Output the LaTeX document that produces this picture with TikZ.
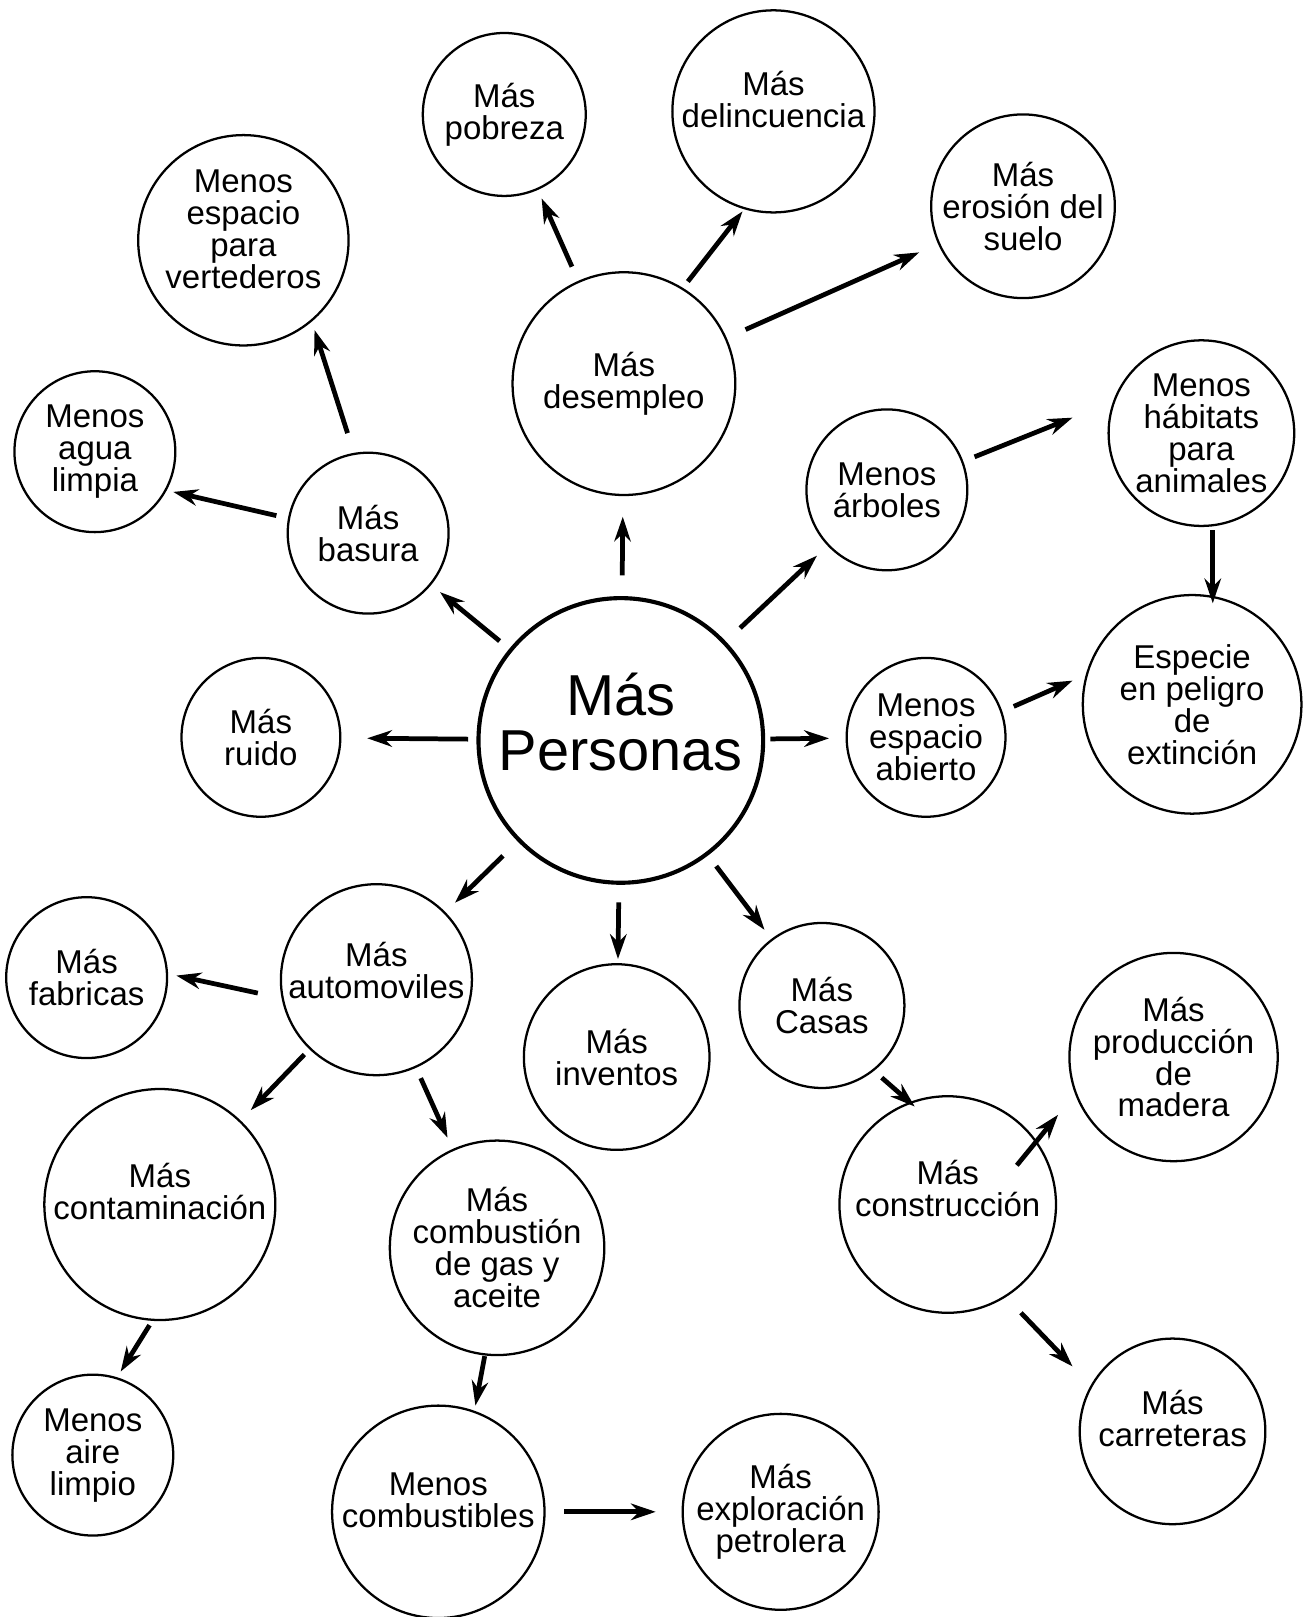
\documentclass[tikz,border=0pt]{standalone}
\usepackage{fontspec}
\setmainfont{Liberation Sans}
\usetikzlibrary{arrows.meta,calc}

\begin{document}
\begin{tikzpicture}
[x=0.5pt,y=-0.5pt,>={Stealth[length=12pt,width=8pt]},
bubble/.style = {draw, circle, line width=1.1pt, inner sep=0pt, align=center, font=\fontsize{16}{15.5}\selectfont},
arr/.style = {->, line width=2.3pt},]
\useasboundingbox (0,0) rectangle (1264,1568);
\node (per) at (602,718)[bubble,line width=2pt,minimum size=138pt,text depth=18pt,font=\fontsize{28}{27}\selectfont] {Más\\Personas};
\node (pob) at (489,111)[bubble,minimum size=79pt] {Más\\pobreza};
\node (del) at (750,108)[bubble,minimum size=98pt,text depth=12pt] {Más\\delincuencia};
\node (ero) at (992,200)[bubble,minimum size=87pt] {Más\\erosión del\\suelo};
\node (ver) at (236,233)[bubble,minimum size=102pt,text depth=11pt] {Menos\\espacio\\para\\vertederos};
\node (des) at (605,372)[bubble,minimum size=108pt] {Más\\desempleo};
\node (agu) at (92,438)[bubble,minimum size=78pt] {Menos\\agua\\limpia};
\node (bas) at (357,517)[bubble,minimum size=78pt] {Más\\basura};
\node (arb) at (860,475)[bubble,minimum size=78pt] {Menos\\árboles};
\node (hab) at (1165,420)[bubble,minimum size=90pt] {Menos\\hábitats\\para\\animales};
\node (esp) at (1156,683)[bubble,minimum size=106pt] {Especie\\en peligro\\de\\extinción};
\node (rui) at (253,715)[bubble,minimum size=77pt] {Más\\ruido};
\node (abi) at (898,715)[bubble,minimum size=77pt] {Menos\\espacio\\abierto};
\node (fab) at (84,948)[bubble,minimum size=78pt] {Más\\fabricas};
\node (aut) at (365,950)[bubble,minimum size=92pt,text depth=9pt] {Más\\automoviles};
\node (inv) at (598,1025)[bubble,minimum size=90pt] {Más\\inventos};
\node (cas) at (797,975)[bubble,minimum size=80pt] {Más\\Casas};
\node (pro) at (1138,1025)[bubble,minimum size=101pt] {Más\\producción\\de\\madera};
\node (con) at (155,1168)[bubble,minimum size=112pt,text depth=13pt] {Más\\contaminación};
\node (cmb) at (482,1210)[bubble,minimum size=104pt] {Más\\combustión\\de gas y\\aceite};
\node (cns) at (919,1168)[bubble,minimum size=105pt,text depth=16pt] {Más\\construcción};
\node (air) at (90,1411)[bubble,minimum size=78pt] {Menos\\aire\\limpio};
\node (cbs) at (425,1466)[bubble,minimum size=103pt,text depth=11pt] {Menos\\combustibles};
\node (exp) at (757,1466)[bubble,minimum size=95pt] {Más\\exploración\\petrolera};
\node (car) at (1137,1388)[bubble,minimum size=90pt,text depth=13pt] {Más\\carreteras};

\draw[arr,shorten <=10pt,shorten >=10pt] (per)--(des);
\draw[arr,shorten <=6pt,shorten >=5.5pt] (per)--(bas);
\draw[arr,shorten <=9.5pt,shorten >=7pt] (per)--(arb);
\draw[arr,shorten <=4pt,shorten >=12.5pt] (per)--(rui);
\draw[arr,shorten <=2.5pt,shorten >=8pt] (per)--(abi);
\draw[arr,shorten <=10pt,shorten >=6.5pt] (per)--(aut);
\draw[arr,shorten <=8.5pt,shorten >=2pt] (per)--(inv);
\draw[arr,shorten <=6.5pt,shorten >=5.5pt] (per)--(cas);
\draw[arr,shorten <=7.5pt,shorten >=4.5pt] (des)--(pob);
\draw[arr] ($(des)+(62,-99)$)--($(del)+(-30,97)$);
\draw[arr,shorten <=10pt,shorten >=10pt] (des)--(ero);
\draw[arr] ($(bas)+(-20,-97)$)--($(ver)+(69,87)$);
\draw[arr] ($(bas)+(-89,-17)$)--($(agu)+(76,39)$);
\draw[arr] ($(arb)+(85,-32)$)--($(hab)+(-125,-15)$);
\draw[arr] ($(hab)+(11,94)$)--($(esp)+(20,-98)$);
\draw[arr] ($(abi)+(85,-30)$)--($(esp)+(-116,-23)$);
\draw[arr] ($(aut)+(-115,13)$)--($(fab)+(87,-2)$);
\draw[arr,shorten <=3.5pt,shorten >=7pt] (aut)--(con);
\draw[arr,shorten <=5.5pt,shorten >=6pt] (aut)--(cmb);
\draw[arr] ($(cas)+(58,70)$)--($(cns)+(-32,-95)$);
\draw[arr] ($(cns)+(67,-38)$)--($(pro)+(-112,56)$);
\draw[arr] ($(cns)+(71,105)$)--($(car)+(-97,-63)$);
\draw[arr] ($(con)+(-10,117)$)--($(air)+(27,-81)$);
\draw[arr] ($(cmb)+(-12,105)$)--($(cbs)+(36,-103)$);
\draw[arr,shorten <=9pt,shorten >=12.5pt] (cbs)--(exp);

\end{tikzpicture}
\end{document}
